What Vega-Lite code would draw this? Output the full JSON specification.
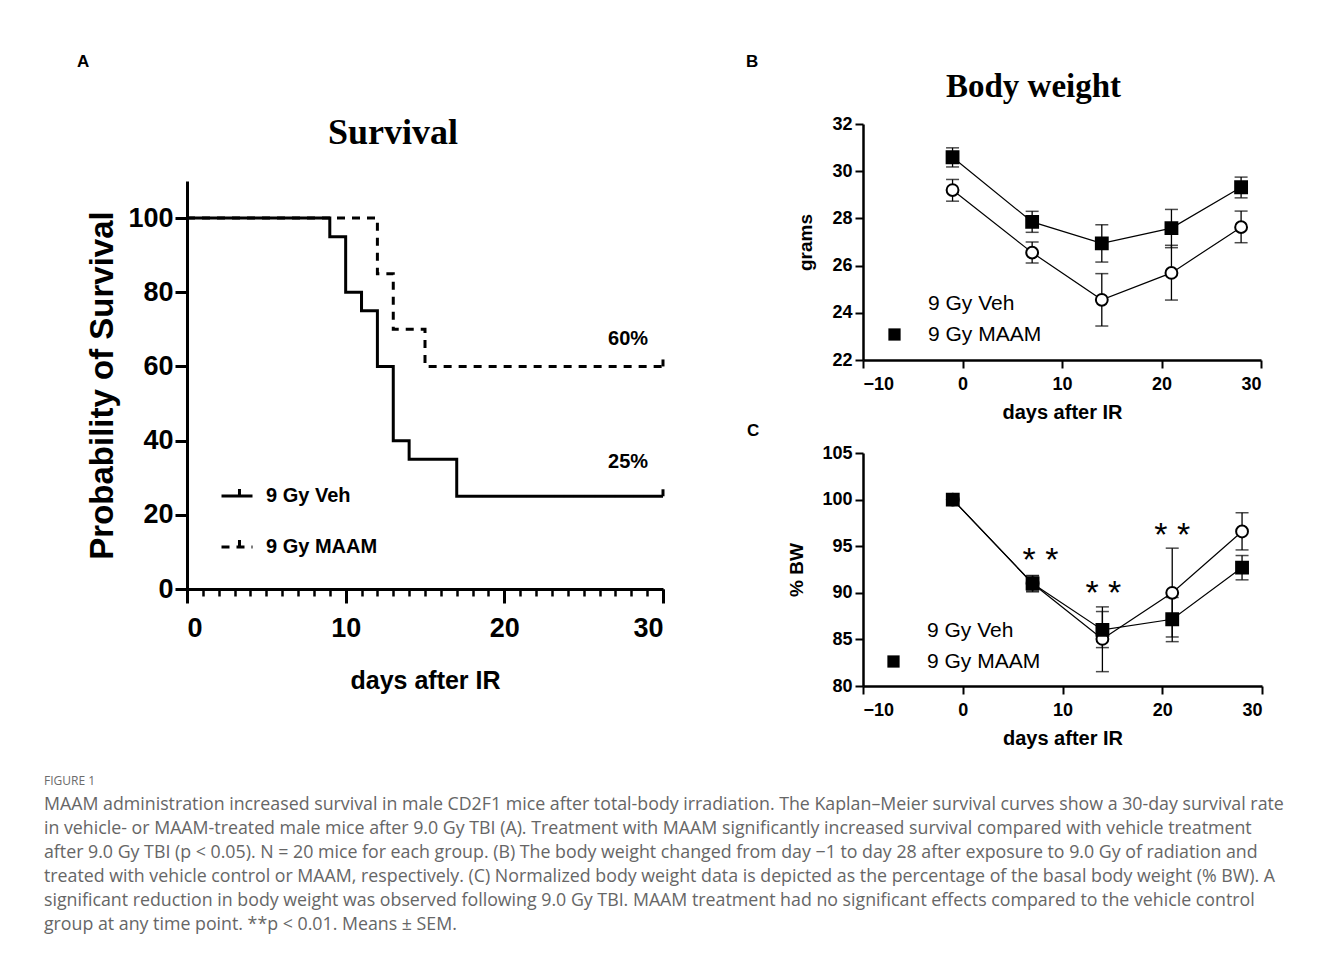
{
  "$schema": "https://vega.github.io/schema/vega-lite/v6.json",
  "background": "white",
  "padding": {"left": 43, "top": 52, "right": 5, "bottom": 5},
  "datasets": {
    "km": [
      {"group": "9 Gy Veh", "day": 0, "survival": 100},
      {"group": "9 Gy Veh", "day": 9, "survival": 95},
      {"group": "9 Gy Veh", "day": 10, "survival": 80},
      {"group": "9 Gy Veh", "day": 11, "survival": 75},
      {"group": "9 Gy Veh", "day": 12, "survival": 60},
      {"group": "9 Gy Veh", "day": 13, "survival": 40},
      {"group": "9 Gy Veh", "day": 14, "survival": 35},
      {"group": "9 Gy Veh", "day": 17, "survival": 25},
      {"group": "9 Gy Veh", "day": 30, "survival": 25},
      {"group": "9 Gy MAAM", "day": 0, "survival": 100},
      {"group": "9 Gy MAAM", "day": 12, "survival": 85},
      {"group": "9 Gy MAAM", "day": 13, "survival": 70},
      {"group": "9 Gy MAAM", "day": 15, "survival": 60},
      {"group": "9 Gy MAAM", "day": 30, "survival": 60}
    ],
    "censor": [
      {"group": "9 Gy Veh", "day": 30, "survival": 25},
      {"group": "9 Gy MAAM", "day": 30, "survival": 60}
    ],
    "pct": [
      {"day": 27.8, "survival": 67.4, "label": "60%"},
      {"day": 27.8, "survival": 34.2, "label": "25%"}
    ],
    "bw": [
      {"group": "9 Gy Veh", "day": -1, "mean": 29.2, "lo": 28.73, "hi": 29.65},
      {"group": "9 Gy Veh", "day": 7, "mean": 26.55, "lo": 26.11, "hi": 27.0},
      {"group": "9 Gy Veh", "day": 14, "mean": 24.55, "lo": 23.44, "hi": 25.66},
      {"group": "9 Gy Veh", "day": 21, "mean": 25.69, "lo": 24.54, "hi": 26.86},
      {"group": "9 Gy Veh", "day": 28, "mean": 27.63, "lo": 26.97, "hi": 28.31},
      {"group": "9 Gy MAAM", "day": -1, "mean": 30.59, "lo": 30.18, "hi": 30.99},
      {"group": "9 Gy MAAM", "day": 7, "mean": 27.85, "lo": 27.41, "hi": 28.3},
      {"group": "9 Gy MAAM", "day": 14, "mean": 26.94, "lo": 26.15, "hi": 27.73},
      {"group": "9 Gy MAAM", "day": 21, "mean": 27.59, "lo": 26.76, "hi": 28.38},
      {"group": "9 Gy MAAM", "day": 28, "mean": 29.32, "lo": 28.87, "hi": 29.75}
    ],
    "pbw": [
      {"group": "9 Gy Veh", "day": -1, "mean": 100, "lo": null, "hi": null},
      {"group": "9 Gy Veh", "day": 7, "mean": 91.0, "lo": 90.1, "hi": 91.86},
      {"group": "9 Gy Veh", "day": 14, "mean": 85.05, "lo": 81.54, "hi": 88.49},
      {"group": "9 Gy Veh", "day": 21, "mean": 90.0, "lo": 85.26, "hi": 94.79},
      {"group": "9 Gy Veh", "day": 28, "mean": 96.58, "lo": 94.6, "hi": 98.59},
      {"group": "9 Gy MAAM", "day": -1, "mean": 100, "lo": null, "hi": null},
      {"group": "9 Gy MAAM", "day": 7, "mean": 91.0, "lo": 90.2, "hi": 91.8},
      {"group": "9 Gy MAAM", "day": 14, "mean": 86.02, "lo": 84.12, "hi": 87.99},
      {"group": "9 Gy MAAM", "day": 21, "mean": 87.16, "lo": 84.76, "hi": 89.5},
      {"group": "9 Gy MAAM", "day": 28, "mean": 92.71, "lo": 91.39, "hi": 94.0}
    ],
    "stars": [
      {"day": 7.8, "value": 94.3, "label": "* *"},
      {"day": 14.1, "value": 90.7, "label": "* *"},
      {"day": 21.0, "value": 96.9, "label": "* *"}
    ],
    "empty": []
  },
  "title": {
    "text": "FIGURE 1",
    "subtitle": [
      "MAAM administration increased survival in male CD2F1 mice after total-body irradiation. The Kaplan–Meier survival curves show a 30-day survival rate",
      "in vehicle- or MAAM-treated male mice after 9.0 Gy TBI (A). Treatment with MAAM significantly increased survival compared with vehicle treatment",
      "after 9.0 Gy TBI (p < 0.05). N = 20 mice for each group. (B) The body weight changed from day −1 to day 28 after exposure to 9.0 Gy of radiation and",
      "treated with vehicle control or MAAM, respectively. (C) Normalized body weight data is depicted as the percentage of the basal body weight (% BW). A",
      "significant reduction in body weight was observed following 9.0 Gy TBI. MAAM treatment had no significant effects compared to the vehicle control",
      "group at any time point. **p < 0.01. Means ± SEM."
    ],
    "orient": "bottom",
    "anchor": "start",
    "font": "Open Sans",
    "fontSize": 12,
    "fontWeight": "normal",
    "color": "#6b6b6b",
    "subtitleFont": "Open Sans",
    "subtitleFontSize": 17.8,
    "subtitleColor": "#666666",
    "subtitleLineHeight": 24,
    "subtitlePadding": 8,
    "offset": 28,
    "dx": -33
  },
  "spacing": 76,
  "resolve": {"scale": {"shape": "independent", "fill": "independent", "strokeDash": "independent"}, "legend": {"shape": "independent", "fill": "independent", "strokeDash": "independent"}},
  "hconcat": [
    {
      "spacing": 0,
      "resolve": {"scale": {"strokeDash": "independent"}, "legend": {"strokeDash": "independent"}},
      "vconcat": [
        {"width": 10, "height": 1, "data": {"name": "empty"}, "mark": {"type": "point", "opacity": 0}},
        {
          "title": {"text": "A", "anchor": "start", "font": "Liberation Sans", "fontSize": 17, "fontWeight": "bold", "color": "black", "offset": 44, "dx": -10},
          "resolve": {"scale": {"strokeDash": "independent"}, "legend": {"strokeDash": "independent"}},
          "vconcat": [
            {
              "width": 476,
              "height": 408,
              "title": {"text": "Survival", "font": "Liberation Serif", "fontSize": 36, "fontWeight": "bold", "color": "black", "anchor": "middle", "frame": "bounds", "offset": 29, "dx": 15},
              "layer": [
                {
                  "data": {"name": "km"},
                  "mark": {"type": "line", "interpolate": "step-after", "strokeWidth": 3, "color": "black"},
                  "encoding": {
                    "x": {"field": "day", "type": "quantitative", "scale": {"domain": [0, 30], "nice": false},
                      "axis": {"values": [0, 10, 20, 30], "title": "days after IR", "labelFont": "Liberation Sans", "labelFontSize": 27, "labelFontWeight": "bold", "titleFont": "Liberation Sans", "titleFontSize": 25, "titleFontWeight": "bold", "tickSize": 14, "tickWidth": 3, "domainWidth": 3, "labelPadding": 12, "titlePadding": 27, "orient": "bottom"}},
                    "y": {"field": "survival", "type": "quantitative", "scale": {"domain": [0, 110], "nice": false},
                      "axis": {"values": [0, 20, 40, 60, 80, 100], "title": "Probability of Survival", "labelFont": "Liberation Sans", "labelFontSize": 27, "labelFontWeight": "bold", "titleFont": "Liberation Sans", "titleFontSize": 33, "titleFontWeight": "bold", "tickSize": 12, "tickWidth": 3, "domainWidth": 3, "labelPadding": 2, "titlePadding": 8}},
                    "strokeDash": {"field": "group", "type": "nominal", "scale": {"domain": ["9 Gy Veh", "9 Gy MAAM"], "range": [[1, 0], [8, 7]]},
                      "legend": {"orient": "none", "legendX": 33, "legendY": 298, "title": null, "symbolType": "M-1,0H1M0.16,0V-0.45", "symbolSize": 961, "symbolStrokeWidth": 3, "symbolStrokeColor": "black", "labelFont": "Liberation Sans", "labelFontSize": 20, "labelFontWeight": "bold", "labelColor": "black", "labelOffset": 12, "rowPadding": 24,
                        "encode": {"symbols": {"update": {
                          "shape": {"value": "M-1,0H1M0.16,0V-0.45"},
                          "fill": {"value": "transparent"},
                          "stroke": {"value": "black"},
                          "strokeWidth": {"value": 3},
                          "opacity": {"value": 1}
                        }}}}}
                  }
                },
                {
                  "data": {"name": "censor"},
                  "mark": {"type": "point", "shape": "M0,-1V0", "size": 196, "strokeWidth": 3, "color": "black", "filled": false, "opacity": 1},
                  "encoding": {
                    "x": {"field": "day", "type": "quantitative",
                      "axis": {"values": [0,1,2,3,4,5,6,7,8,9,10,11,12,13,14,15,16,17,18,19,20,21,22,23,24,25,26,27,28,29,30], "labels": false, "domain": false, "title": null, "tickSize": 7, "tickWidth": 2.5, "orient": "bottom"}},
                    "y": {"field": "survival", "type": "quantitative"}
                  }
                },
                {
                  "data": {"name": "pct"},
                  "mark": {"type": "text", "font": "Liberation Sans", "fontSize": 20, "fontWeight": "bold", "color": "black"},
                  "encoding": {
                    "x": {"field": "day", "type": "quantitative", "axis": null},
                    "y": {"field": "survival", "type": "quantitative"},
                    "text": {"field": "label"}
                  }
                }
              ],
              "resolve": {"axis": {"x": "independent"}}
            }
          ]
        }
      ]
    },
    {
      "spacing": 0,
      "resolve": {"scale": {"shape": "independent", "fill": "independent"}, "legend": {"shape": "independent", "fill": "independent"}},
      "vconcat": [
        {"width": 10, "height": 1, "data": {"name": "empty"}, "mark": {"type": "point", "opacity": 0}},
        {
          "title": {"text": "B", "anchor": "start", "font": "Liberation Sans", "fontSize": 17, "fontWeight": "bold", "color": "black", "offset": 0, "dx": -51},
          "vconcat": [
            {
              "width": 398,
              "height": 236,
              "title": {"text": "Body weight", "font": "Liberation Serif", "fontSize": 33, "fontWeight": "bold", "color": "black", "anchor": "middle", "frame": "bounds", "offset": 11, "dx": 4},
              "data": {"name": "bw"},
              "encoding": {
                "x": {"field": "day", "type": "quantitative", "scale": {"domain": [-10, 30], "nice": false},
                  "axis": {"values": [-10, 0, 10, 20, 30], "title": "days after IR", "labelFont": "Liberation Sans", "labelFontSize": 18, "labelFontWeight": "bold", "titleFont": "Liberation Sans", "titleFontSize": 20, "titleFontWeight": "bold", "tickSize": 8, "tickWidth": 2, "domainWidth": 2.5, "labelPadding": 7, "titlePadding": 9}}
              },
              "layer": [
                {
                  "mark": {"type": "line", "color": "black", "strokeWidth": 1.2},
                  "encoding": {
                    "y": {"field": "mean", "type": "quantitative", "scale": {"domain": [22, 32], "nice": false},
                      "axis": {"values": [22, 24, 26, 28, 30, 32], "title": "grams", "labelFont": "Liberation Sans", "labelFontSize": 18, "labelFontWeight": "bold", "titleFont": "Liberation Sans", "titleFontSize": 19, "titleFontWeight": "bold", "tickSize": 8, "tickWidth": 2, "domainWidth": 2.5, "labelPadding": 3, "titlePadding": 16}},
                    "detail": {"field": "group"}
                  }
                },
                {
                  "mark": {"type": "rule", "color": "black", "strokeWidth": 1.3},
                  "encoding": {"y": {"field": "lo", "type": "quantitative"}, "y2": {"field": "hi"}}
                },
                {
                  "mark": {"type": "tick", "orient": "horizontal", "size": 13, "thickness": 1.5, "color": "black"},
                  "encoding": {"y": {"field": "lo", "type": "quantitative"}}
                },
                {
                  "mark": {"type": "tick", "orient": "horizontal", "size": 13, "thickness": 1.5, "color": "black"},
                  "encoding": {"y": {"field": "hi", "type": "quantitative"}}
                },
                {
                  "mark": {"type": "point", "filled": true, "stroke": "black", "strokeWidth": 2, "size": 140, "opacity": 1},
                  "encoding": {
                    "y": {"field": "mean", "type": "quantitative"},
                    "shape": {"field": "group", "type": "nominal", "scale": {"domain": ["9 Gy Veh", "9 Gy MAAM"], "range": ["circle", "square"]},
                      "legend": {"orient": "none", "legendX": 21, "legendY": 169, "title": null, "symbolSize": 150, "symbolStrokeWidth": 2, "symbolStrokeColor": "black", "labelFont": "Liberation Sans", "labelFontSize": 21, "labelColor": "black", "labelOffset": 23, "rowPadding": 9}},
                    "fill": {"field": "group", "type": "nominal", "scale": {"domain": ["9 Gy Veh", "9 Gy MAAM"], "range": ["white", "black"]}, "legend": null}
                  }
                }
              ]
            }
          ]
        },
        {
          "title": {"text": "C", "anchor": "start", "font": "Liberation Sans", "fontSize": 17, "fontWeight": "bold", "color": "black", "offset": 4, "dx": -41},
          "vconcat": [
            {
              "width": 399,
              "height": 233,
              "data": {"name": "pbw"},
              "encoding": {
                "x": {"field": "day", "type": "quantitative", "scale": {"domain": [-10, 30], "nice": false},
                  "axis": {"values": [-10, 0, 10, 20, 30], "title": "days after IR", "labelFont": "Liberation Sans", "labelFontSize": 18, "labelFontWeight": "bold", "titleFont": "Liberation Sans", "titleFontSize": 20, "titleFontWeight": "bold", "tickSize": 8, "tickWidth": 2, "domainWidth": 2.5, "labelPadding": 7, "titlePadding": 9}}
              },
              "layer": [
                {
                  "mark": {"type": "line", "color": "black", "strokeWidth": 1.2},
                  "encoding": {
                    "y": {"field": "mean", "type": "quantitative", "scale": {"domain": [80, 105], "nice": false},
                      "axis": {"values": [80, 85, 90, 95, 100, 105], "title": "% BW", "labelFont": "Liberation Sans", "labelFontSize": 18, "labelFontWeight": "bold", "titleFont": "Liberation Sans", "titleFontSize": 19, "titleFontWeight": "bold", "tickSize": 8, "tickWidth": 2, "domainWidth": 2.5, "labelPadding": 3, "titlePadding": 15}},
                    "detail": {"field": "group"}
                  }
                },
                {
                  "mark": {"type": "rule", "color": "black", "strokeWidth": 1.3},
                  "encoding": {"y": {"field": "lo", "type": "quantitative"}, "y2": {"field": "hi"}}
                },
                {
                  "mark": {"type": "tick", "orient": "horizontal", "size": 13, "thickness": 1.5, "color": "black"},
                  "encoding": {"y": {"field": "lo", "type": "quantitative"}}
                },
                {
                  "mark": {"type": "tick", "orient": "horizontal", "size": 13, "thickness": 1.5, "color": "black"},
                  "encoding": {"y": {"field": "hi", "type": "quantitative"}}
                },
                {
                  "mark": {"type": "point", "filled": true, "stroke": "black", "strokeWidth": 2, "size": 140, "opacity": 1},
                  "encoding": {
                    "y": {"field": "mean", "type": "quantitative"},
                    "shape": {"field": "group", "type": "nominal", "scale": {"domain": ["9 Gy Veh", "9 Gy MAAM"], "range": ["circle", "square"]},
                      "legend": {"orient": "none", "legendX": 20, "legendY": 167, "title": null, "symbolSize": 150, "symbolStrokeWidth": 2, "symbolStrokeColor": "black", "labelFont": "Liberation Sans", "labelFontSize": 21, "labelColor": "black", "labelOffset": 23, "rowPadding": 9}},
                    "fill": {"field": "group", "type": "nominal", "scale": {"domain": ["9 Gy Veh", "9 Gy MAAM"], "range": ["white", "black"]}, "legend": null}
                  }
                },
                {
                  "data": {"name": "stars"},
                  "mark": {"type": "text", "font": "Liberation Sans", "fontSize": 34, "color": "black", "baseline": "middle", "dy": 8},
                  "encoding": {
                    "y": {"field": "value", "type": "quantitative"},
                    "text": {"field": "label"}
                  }
                }
              ]
            }
          ]
        }
      ]
    }
  ],
  "config": {
    "view": {"stroke": null},
    "axis": {"grid": false, "domainColor": "black", "tickColor": "black", "labelColor": "black", "titleColor": "black"}
  }
}
